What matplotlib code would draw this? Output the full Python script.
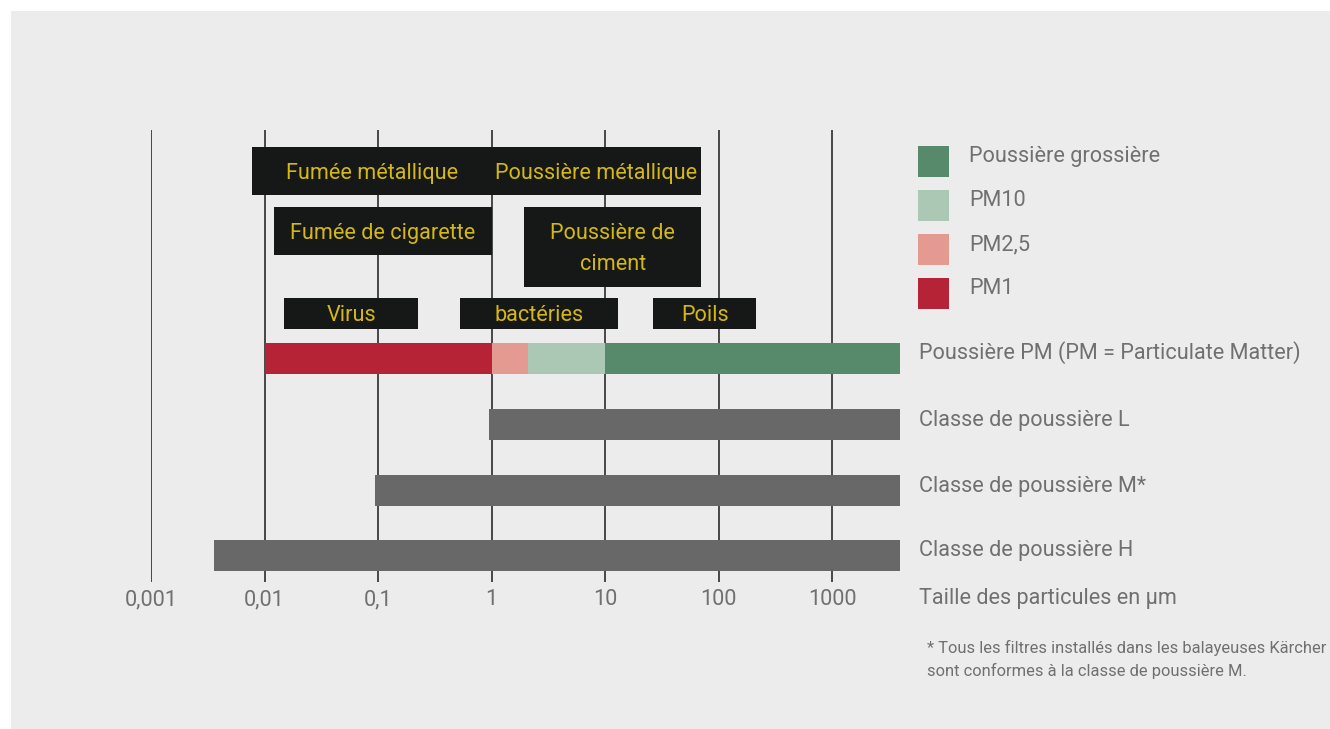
import math
import matplotlib
matplotlib.use("Agg")
import matplotlib.pyplot as plt
from matplotlib.patches import Rectangle

# ---------------- data ----------------
tick_values = [0.001, 0.01, 0.1, 1, 10, 100, 1000]
tick_labels = ["0,001", "0,01", "0,1", "1", "10", "100", "1000"]
x_max = 3970  # right end of the scale (bars run to it)

# PM bar segments (start, end) in µm
pm_names = ["PM1", "PM2,5", "PM10", "Poussière grossière"]
pm_starts = [0.01, 1, 2.1, 10]
pm_ends = [1, 2.1, 10, x_max]

# dust classes (start in µm, run to end of scale)
class_names = ["Classe de poussière L", "Classe de poussière M*", "Classe de poussière H"]
class_starts = [0.95, 0.094, 0.0036]

# particle examples (label, start µm, end µm)
example_labels = ["Fumée métallique", "Poussière métallique", "Fumée de cigarette",
                  "Poussière de\nciment", "Virus", "bactéries", "Poils"]
example_starts = [0.0078, 1, 0.0122, 1.95, 0.015, 0.53, 26.5]
example_ends = [1, 70, 1, 70, 0.225, 13, 216]

legend_names = ["Poussière grossière", "PM10", "PM2,5", "PM1"]
pm_row_label = "Poussière PM (PM = Particulate Matter)"
axis_label = "Taille des particules en µm"
footnote = ["* Tous les filtres installés dans les balayeuses Kärcher",
            "sont conformes à la classe de poussière M."]

# ---------------- styles / layout ----------------
W, H = 1330, 729
BG = "#ebeceb"
TXT = "#707070"
BOX = "#161817"
YEL = "#d4b815"
GRID = "#2b2b2b"
pm_colors = {"PM1": "#b72336", "PM2,5": "#e49a90", "PM10": "#abc8b5",
             "Poussière grossière": "#578a6b"}
GRAY = "#686868"
FONT = ["Roboto", "DejaVu Sans"]
FS = 15.6
WT = "normal"

example_rows = [(147, 195), (147, 195), (207, 255), (207, 287), (298, 329), (298, 329), (298, 329)]
pm_row = (343, 374)
class_rows = [(409, 440), (475, 506), (540, 571)]
class_label_base = [426, 492, 556]

plt.rcParams["font.family"] = FONT

fig = plt.figure(figsize=(W / 100, H / 100), dpi=100)
fig.patch.set_facecolor("white")
bg = Rectangle((11 / W, 0), 1 - 11 / W, 1 - 11 / H, transform=fig.transFigure,
               facecolor=BG, edgecolor="none", zorder=-10)
fig.patches.append(bg)

x0_px, x1_px = 151, 900
ax = fig.add_axes([x0_px / W, 0, (x1_px - x0_px) / W, 1], zorder=5)
ax.set_xscale("log")
ax.set_xlim(0.001, x_max)
ax.set_ylim(H, 0)
ax.axis("off")
ax.patch.set_alpha(0)


def fx(px):
    return px / W


def fy(py):
    return 1 - py / H


# gridlines
ax.vlines(tick_values, 130, 582, colors=GRID, linewidth=1.2, zorder=1)
for v, lab in zip(tick_values, tick_labels):
    ax.text(v, 605, lab, ha="center", va="baseline", fontsize=FS, color=TXT,
            fontweight=WT, zorder=5, clip_on=False)

# PM bar
for n, s, e in zip(pm_names, pm_starts, pm_ends):
    ax.barh((pm_row[0] + pm_row[1]) / 2, e - s, left=s, height=pm_row[1] - pm_row[0],
            color=pm_colors[n], zorder=2)

# class bars
for s, (t, b) in zip(class_starts, class_rows):
    ax.barh((t + b) / 2, x_max - s, left=s, height=b - t, color=GRAY, zorder=2)

# example boxes
for lab, s, e, (t, b) in zip(example_labels, example_starts, example_ends, example_rows):
    ax.barh((t + b) / 2, e - s, left=s, height=b - t, color=BOX, zorder=3)
    lines = lab.split("\n")
    n = len(lines)
    xc = 10 ** ((math.log10(s) + math.log10(e)) / 2)
    for i, ln in enumerate(lines):
        base = (t + b) / 2 + 7.5 + (i - (n - 1) / 2) * 31
        ax.text(xc, base, ln, ha="center", va="baseline", fontsize=FS, color=YEL,
                fontweight=WT, zorder=4)

# legend
leg_tops = [146, 190, 234, 278]
for name, top in zip(legend_names, leg_tops):
    fig.patches.append(Rectangle((fx(918), fy(top + 31)), 31 / W, 31 / H,
                                 transform=fig.transFigure, facecolor=pm_colors[name],
                                 edgecolor="none", zorder=2))
    fig.text(fx(969), fy(top + 16), name, ha="left", va="baseline", fontsize=FS,
             color=TXT, fontweight=WT)

fig.text(fx(919), fy(359), pm_row_label, ha="left", va="baseline", fontsize=FS,
         color=TXT, fontweight=WT)
for name, base in zip(class_names, class_label_base):
    fig.text(fx(919), fy(base), name, ha="left", va="baseline", fontsize=FS,
             color=TXT, fontweight=WT)
fig.text(fx(919), fy(604), axis_label, ha="left", va="baseline", fontsize=FS,
         color=TXT, fontweight=WT)
for i, ln in enumerate(footnote):
    fig.text(fx(927), fy(653 + 23 * i), ln, ha="left", va="baseline", fontsize=11.9,
             color=TXT, fontweight=WT)

fig.savefig("out.png", dpi=100, facecolor="white")
